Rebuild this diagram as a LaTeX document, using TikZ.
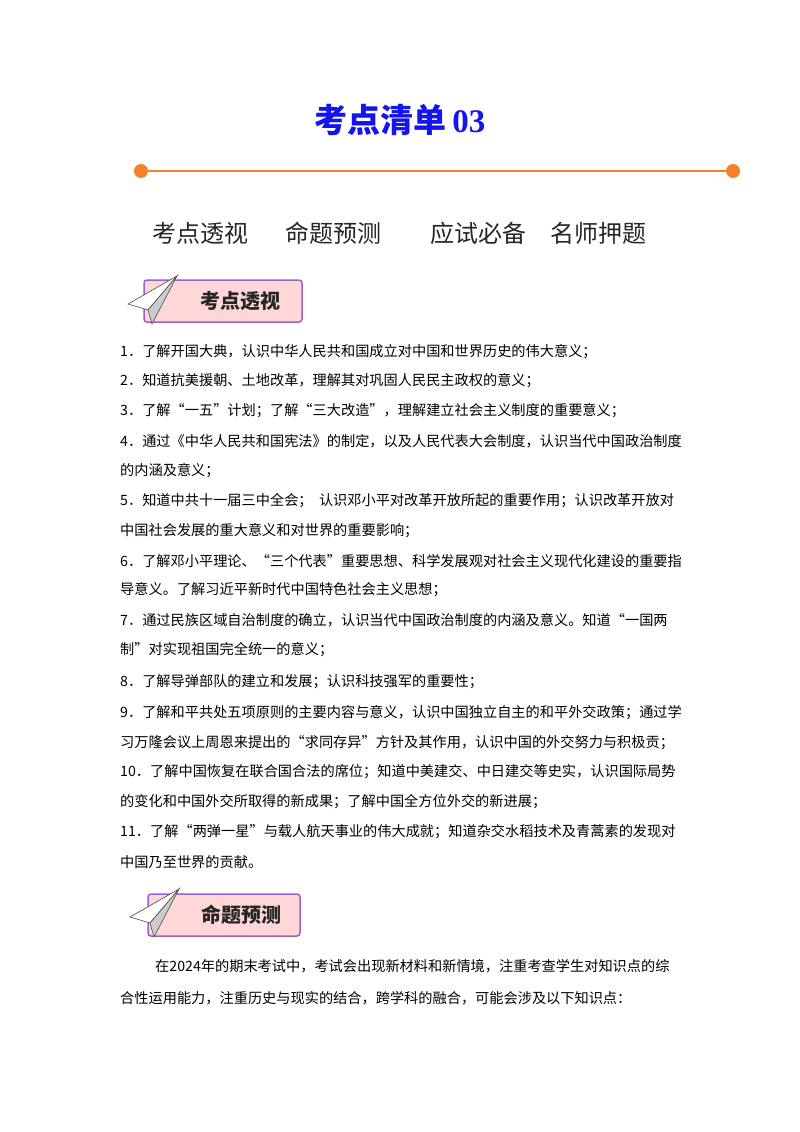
\documentclass[tikz,border=0pt]{standalone}
\usepackage{fontspec}
\setmainfont{Liberation Serif}
\newfontfamily\cjk{Noto Sans CJK SC}
\definecolor{org}{RGB}{245,130,40}
\definecolor{pinkf}{RGB}{255,215,215}
\definecolor{purp}{RGB}{150,100,210}
\definecolor{ttl}{RGB}{20,20,240}
\begin{document}
\begin{tikzpicture}[x=1pt,y=-1pt,
  ln/.style={anchor=west,inner sep=0pt,font=\cjk\fontsize{14.2}{15}\selectfont},
  menu/.style={anchor=west,inner sep=0pt,font=\cjk\fontsize{24}{26}\selectfont,text=black!85},
  banner/.style={draw=purp,line width=1.5pt,fill=pinkf,rounded corners=3pt,minimum height=42pt,font=\cjk\bfseries\fontsize{20}{22}\selectfont,text=black!85}]
\useasboundingbox (0,0) rectangle (800,1132);
\fill[white] (0,0) rectangle (800,1132);
\node[inner sep=0pt,text=ttl,font=\bfseries\fontsize{33}{35}\selectfont] (title) at (400,120) {{\cjk\bfseries 考点清单}\,03};
\coordinate (l1) at (141,171); \coordinate (l2) at (733,171);
\draw[org,line width=2pt] (l1) -- (l2);
\fill[org] (l1) circle (7); \fill[org] (l2) circle (7);
\node[menu] (m1) at (152,233) {考点透视};
\node[menu] (m2) at (285,233) {命题预测};
\node[menu] (m3) at (430,233) {应试必备};
\node[menu] (m4) at (550,233) {名师押题};
\node[banner,minimum width=158pt] (b1) at (223,301) {\hspace*{34pt}考点透视};
\node[banner,minimum width=152pt] (b2) at (224,915) {\hspace*{34pt}命题预测};
\foreach \bx/\by in {128/284, 130/897}{
 \filldraw[fill=white,draw=black!70,line width=0.6pt] (\bx,\by+20) -- (\bx+49,\by-8) -- (\bx+20,\by+26) -- cycle;
 \filldraw[fill=black!20,draw=black!70,line width=0.6pt] (\bx+20,\by+26) -- (\bx+49,\by-8) -- (\bx+24,\by+40) -- cycle;
}
\node[ln] (t1) at (120,352) {1．了解开国大典，认识中华人民共和国成立对中国和世界历史的伟大意义；};
\node[ln] (t2) at (120,381) {2．知道抗美援朝、土地改革，理解其对巩固人民民主政权的意义；};
\node[ln] (t3) at (120,411) {3．了解“一五”计划；了解“三大改造”，理解建立社会主义制度的重要意义；};
\node[ln] (t4) at (120,441) {4．通过《中华人民共和国宪法》的制定，以及人民代表大会制度，认识当代中国政治制度};
\node[ln] (t4b) at (120,471) {的内涵及意义；};
\node[ln] (t5) at (120,501) {5．知道中共十一届三中全会；\ \ 认识邓小平对改革开放所起的重要作用；认识改革开放对};
\node[ln] (t5b) at (120,531) {中国社会发展的重大意义和对世界的重要影响；};
\node[ln] (t6) at (120,561) {6．了解邓小平理论、“三个代表”重要思想、科学发展观对社会主义现代化建设的重要指};
\node[ln] (t6b) at (120,590) {导意义。了解习近平新时代中国特色社会主义思想；};
\node[ln] (t7) at (120,620) {7．通过民族区域自治制度的确立，认识当代中国政治制度的内涵及意义。知道“一国两};
\node[ln] (t7b) at (120,650) {制”对实现祖国完全统一的意义；};
\node[ln] (t8) at (120,682) {8．了解导弹部队的建立和发展；认识科技强军的重要性；};
\node[ln] (t9) at (120,713) {9．了解和平共处五项原则的主要内容与意义，认识中国独立自主的和平外交政策；通过学};
\node[ln] (t9b) at (120,743) {习万隆会议上周恩来提出的“求同存异”方针及其作用，认识中国的外交努力与积极贡；};
\node[ln] (t10) at (120,772) {10．了解中国恢复在联合国合法的席位；知道中美建交、中日建交等史实，认识国际局势};
\node[ln] (t10b) at (120,802) {的变化和中国外交所取得的新成果；了解中国全方位外交的新进展；};
\node[ln] (t11) at (120,832) {11．了解“两弹一星”与载人航天事业的伟大成就；知道杂交水稻技术及青蒿素的发现对};
\node[ln] (t11b) at (120,862) {中国乃至世界的贡献。};
\node[ln] (p1) at (155,966) {在2024年的期末考试中，考试会出现新材料和新情境，注重考查学生对知识点的综};
\node[ln] (p2) at (120,998) {合性运用能力，注重历史与现实的结合，跨学科的融合，可能会涉及以下知识点：};
\end{tikzpicture}
\end{document}
